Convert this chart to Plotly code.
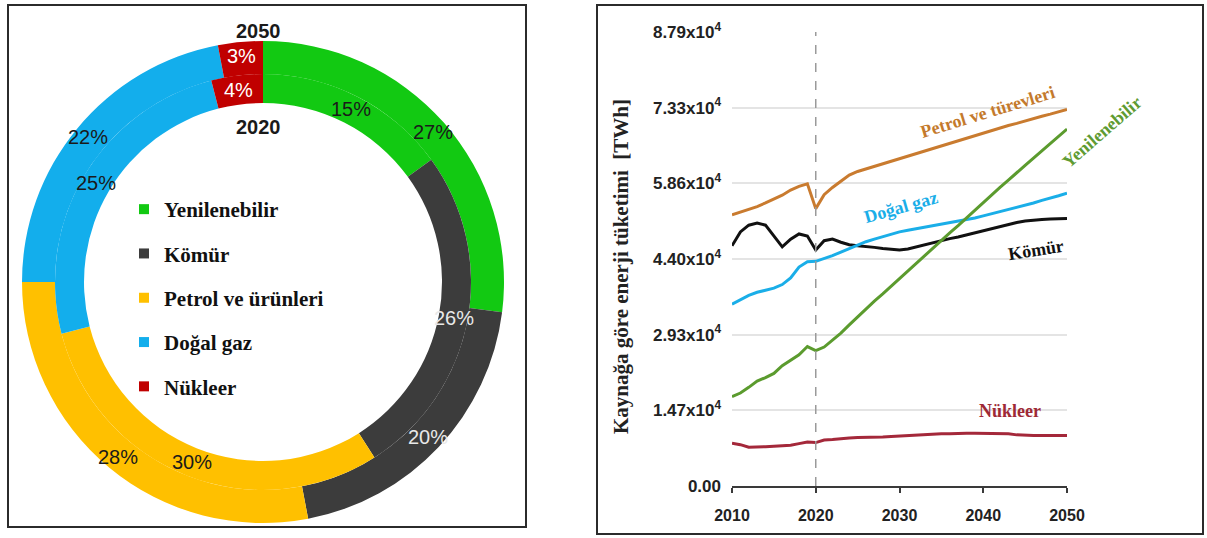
import math
import plotly.graph_objects as go

# ---------------- data ----------------
sources = ["Yenilenebilir", "Kömür", "Petrol ve ürünleri", "Doğal gaz", "Nükleer"]
share_2050 = [27, 20, 28, 22, 3]
share_2020 = [15, 26, 30, 25, 4]
pie_colors = ["#12C912", "#3C3C3C", "#FFC000", "#13AEEC", "#C00000"]
label_colors = ["#1a1a1a", "#e8e8e8", "#1a1a1a", "#1a1a1a", "#ffffff"]

years = list(range(2010, 2051))
petrol = [52500, 53000, 53600, 54100, 54800, 55500, 56300, 57300, 58000, 58500,
          53700, 56400, 57800, 59000, 60200, 60900, 61400, 61900, 62400, 62800,
          63300, 63800, 64300, 64800, 65300, 65800, 66300, 66800, 67300, 67800,
          68300, 68800, 69300, 69800, 70200, 70700, 71200, 71600, 72000, 72500, 72900]
komur = [46500, 49200, 50500, 50900, 50500, 48500, 46300, 47800, 48800, 48400,
         45700, 47500, 47800, 47200, 46700, 46500, 46400, 46200, 46000, 45800,
         45700, 45900, 46300, 46800, 47200, 47600, 47900, 48200, 48600, 49000,
         49400, 49900, 50300, 50700, 51000, 51300, 51500, 51600, 51700, 51800, 51800]
dogalgaz = [35200, 36100, 36900, 37500, 37900, 38300, 39000, 40300, 42400, 43400,
            43500, 44000, 44600, 45300, 46000, 46700, 47300, 47800, 48300, 48800,
            49200, 49500, 49800, 50100, 50400, 50700, 51000, 51200, 51500, 51900,
            52300, 52700, 53100, 53500, 53900, 54400, 54800, 55300, 55700, 56200, 56700]
yenilenebilir = [17300, 18000, 19100, 20300, 21000, 21800, 23300, 24300, 25400, 27000,
                 26200, 26900, 28200, 29600, 31200, 32800, 34300, 35800, 37200, 38700,
                 40200, 41700, 43100, 44600, 46000, 47500, 49000, 50400, 51900, 53400,
                 54900, 56300, 57800, 59200, 60700, 62100, 63500, 64900, 66300, 67700, 69100]
nukleer = [8300, 8000, 7500, 7500, 7600, 7700, 7800, 7900, 8200, 8500,
           8400, 8900, 9000, 9200, 9300, 9400, 9400, 9500, 9500, 9600,
           9700, 9800, 9900, 10000, 10000, 10100, 10100, 10200, 10200, 10200,
           10200, 10200, 10200, 10100, 9900, 9800, 9800, 9800, 9800, 9800, 9800]

line_series = [
    ("Petrol ve türevleri", petrol, "#C97B2F"),
    ("Kömür", komur, "#111111"),
    ("Doğal gaz", dogalgaz, "#1AAEE8"),
    ("Yenilenebilir", yenilenebilir, "#5B9B2E"),
    ("Nükleer", nukleer, "#A4283A"),
]

y_tickvals = [0, 14650, 29300, 43950, 58600, 73250, 87900]
y_ticktext = ["0.00", "1.47x10<sup>4</sup>", "2.93x10<sup>4</sup>", "4.40x10<sup>4</sup>",
              "5.86x10<sup>4</sup>", "7.33x10<sup>4</sup>", "8.79x10<sup>4</sup>"]
x_tickvals = [2010, 2020, 2030, 2040, 2050]

# ---------------- layout helpers ----------------
W, H = 1207, 538
def px_x(p): return p / W
def px_y(p): return 1 - p / H

SANS = "Liberation Sans, Arial, sans-serif"
SERIF = "Liberation Serif, Times New Roman, serif"

fig = go.Figure()

# donut: outer ring 2050, inner ring 2020
cx, cy = 263, 282
r_out, r_mid, r_in = 241, 208, 179
fig.add_trace(go.Pie(
    values=share_2050, labels=sources, sort=False, direction="clockwise", rotation=0,
    hole=r_mid / r_out, marker=dict(colors=pie_colors, line=dict(width=0)),
    textinfo="none",
    domain=dict(x=[px_x(cx - r_out), px_x(cx + r_out)], y=[px_y(cy + r_out), px_y(cy - r_out)]),
    showlegend=False, name="2050"))
fig.add_trace(go.Pie(
    values=share_2020, labels=sources, sort=False, direction="clockwise", rotation=0,
    hole=r_in / r_mid, marker=dict(colors=pie_colors, line=dict(width=0)),
    textinfo="none",
    domain=dict(x=[px_x(cx - r_mid), px_x(cx + r_mid)], y=[px_y(cy + r_mid), px_y(cy - r_mid)]),
    showlegend=False, name="2020"))

# percentage labels at each slice's mid angle
def ring_labels(shares, radius):
    cum = 0
    for s, col in zip(shares, label_colors):
        ang = math.radians((cum + s / 2) / 100 * 360)
        cum += s
        fig.add_annotation(x=px_x(cx + radius * math.sin(ang)), y=px_y(cy - radius * math.cos(ang)),
                           xref="paper", yref="paper", xanchor="center", yanchor="middle",
                           text=f"{s}%", showarrow=False,
                           font=dict(family=SANS, size=20, color=col))
ring_labels(share_2050, 227)
ring_labels(share_2020, 194)

# legend entries (square markers) for the donut
for name, col in zip(sources, pie_colors):
    fig.add_trace(go.Scatter(x=[None], y=[None], mode="markers", name=name,
                             legendgroup=name,
                             marker=dict(symbol="square", size=10, color=col)))

# line chart
for name, vals, col in line_series:
    fig.add_trace(go.Scatter(x=years, y=vals, mode="lines", name=name, showlegend=False,
                             line=dict(color=col, width=3), cliponaxis=False))

# line labels (data coordinates)
line_labels = [
    ("Petrol ve türevleri", 2040.5, 72400, -17, "#C47A2C"),
    ("Doğal gaz", 2030.2, 54100, -16, "#1AAEE8"),
    ("Kömür", 2046.3, 45600, -9, "#111111"),
    ("Nükleer", 2043.2, 14600, 0, "#9E2A36"),
]
for txt, xv, yv, ang, col in line_labels:
    fig.add_annotation(x=xv, y=yv, xref="x", yref="y", text=txt, showarrow=False,
                       textangle=ang, font=dict(family=SERIF, size=18, color=col, weight="bold"))
# label beyond the right edge of the plot area
fig.add_annotation(x=px_x(1102), y=px_y(132), xref="paper", yref="paper", text="Yenilenebilir",
                   xanchor="center", yanchor="middle", showarrow=False, textangle=-41,
                   font=dict(family=SERIF, size=18, color="#5F9B32", weight="bold"))

# y-axis title
fig.add_annotation(x=px_x(621), y=px_y(267), xref="paper", yref="paper",
                   xanchor="center", yanchor="middle",
                   text="Kaynağa göre enerji tüketimi\u00a0\u00a0[TWh]", showarrow=False,
                   textangle=-90, font=dict(family=SERIF, size=21, color="#222", weight="bold"))

# donut year labels
fig.add_annotation(x=px_x(258), y=px_y(31), xref="paper", yref="paper", text="2050",
                   xanchor="center", yanchor="middle", showarrow=False,
                   font=dict(family=SANS, size=20, color="#1a1a1a", weight="bold"))
fig.add_annotation(x=px_x(258), y=px_y(127), xref="paper", yref="paper", text="2020",
                   xanchor="center", yanchor="middle", showarrow=False,
                   font=dict(family=SANS, size=20, color="#1a1a1a", weight="bold"))

# dashed 2020 line
fig.add_shape(type="line", xref="x", yref="y", x0=2020, x1=2020, y0=0, y1=87900,
              line=dict(color="#9a9a9a", width=1.5, dash="dash"))

# panel borders
fig.add_shape(type="rect", xref="paper", yref="paper", x0=px_x(8), x1=px_x(526),
              y0=px_y(527), y1=px_y(5), line=dict(color="#2b2b2b", width=2))
fig.add_shape(type="rect", xref="paper", yref="paper", x0=px_x(597), x1=px_x(1203),
              y0=px_y(534), y1=px_y(5), line=dict(color="#2b2b2b", width=2))

fig.update_layout(
    width=W, height=H,
    margin=dict(l=0, r=0, t=0, b=0, autoexpand=False),
    paper_bgcolor="white", plot_bgcolor="white",
    xaxis=dict(domain=[px_x(732), px_x(1067)], range=[2010, 2050], tickvals=x_tickvals,
               showgrid=False, zeroline=False, showline=True, linecolor="#3a3a3a", linewidth=2,
               ticks="outside", ticklen=5, tickwidth=2, tickcolor="#3a3a3a",
               tickfont=dict(family=SANS, size=16, color="#222", weight="bold"),
               ticklabelstandoff=9, automargin=False),
    yaxis=dict(domain=[px_y(486), px_y(32)], range=[0, 87900], tickvals=y_tickvals,
               ticktext=y_ticktext, showgrid=True, gridcolor="#e4e4e4", gridwidth=2,
               zeroline=False, showline=False, ticks="",
               tickfont=dict(family=SANS, size=17, color="#222", weight="bold"),
               ticklabelstandoff=10, automargin=False),
    legend=dict(x=px_x(124), y=px_y(189), xanchor="left", yanchor="top",
                bgcolor="rgba(0,0,0,0)", tracegroupgap=14,
                font=dict(family=SERIF, size=21, color="#111", weight="bold")),
    showlegend=True,
)

fig.write_html("out.html")
